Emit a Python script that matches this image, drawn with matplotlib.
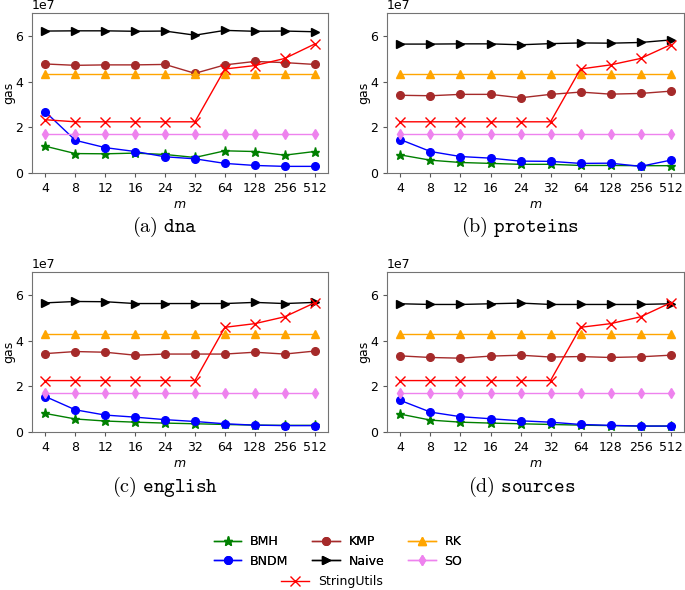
#!/usr/bin/env python3

import matplotlib
matplotlib.use("Agg")
import matplotlib.pyplot as plt
import numpy as np

# pattern length m (categorical x axis)
m_labels = ["4", "8", "12", "16", "24", "32", "64", "128", "256", "512"]

# gas used, in units of 1e7
dna_bmh = [1.17, 0.85, 0.84, 0.87, 0.81, 0.68, 0.97, 0.94, 0.78, 0.94]
dna_bndm = [2.67, 1.43, 1.11, 0.94, 0.71, 0.62, 0.42, 0.33, 0.29, 0.29]
dna_kmp = [4.77, 4.71, 4.73, 4.73, 4.75, 4.36, 4.73, 4.88, 4.83, 4.75]
dna_naive = [6.21, 6.22, 6.22, 6.20, 6.21, 6.03, 6.24, 6.20, 6.21, 6.18]
dna_rk = [4.31] * 10
dna_so = [1.70] * 10
dna_su = [2.33, 2.24, 2.24, 2.24, 2.24, 2.24, 4.55, 4.70, 5.01, 5.64]

prot_bmh = [0.79, 0.56, 0.46, 0.42, 0.38, 0.38, 0.33, 0.33, 0.32, 0.32]
prot_bndm = [1.46, 0.94, 0.72, 0.65, 0.52, 0.51, 0.42, 0.43, 0.29, 0.56]
prot_kmp = [3.40, 3.38, 3.44, 3.44, 3.29, 3.44, 3.54, 3.45, 3.48, 3.58]
prot_naive = [5.64, 5.64, 5.65, 5.65, 5.61, 5.66, 5.69, 5.68, 5.71, 5.82]
prot_rk = [4.31] * 10
prot_so = [1.70] * 10
prot_su = [2.24, 2.24, 2.24, 2.24, 2.24, 2.24, 4.55, 4.73, 5.01, 5.61]

eng_bmh = [0.81, 0.57, 0.48, 0.43, 0.39, 0.36, 0.33, 0.30, 0.29, 0.29]
eng_bndm = [1.55, 0.97, 0.74, 0.65, 0.54, 0.46, 0.36, 0.30, 0.28, 0.28]
eng_kmp = [3.43, 3.52, 3.49, 3.36, 3.41, 3.41, 3.41, 3.49, 3.41, 3.54]
eng_naive = [5.65, 5.71, 5.70, 5.62, 5.62, 5.62, 5.62, 5.67, 5.62, 5.67]
eng_rk = [4.30] * 10
eng_so = [1.72] * 10
eng_su = [2.25, 2.25, 2.25, 2.25, 2.25, 2.25, 4.58, 4.74, 5.04, 5.65]

src_bmh = [0.78, 0.52, 0.43, 0.39, 0.36, 0.33, 0.30, 0.28, 0.26, 0.26]
src_bndm = [1.38, 0.87, 0.67, 0.58, 0.49, 0.43, 0.33, 0.29, 0.26, 0.26]
src_kmp = [3.33, 3.26, 3.23, 3.32, 3.36, 3.28, 3.30, 3.26, 3.29, 3.36]
src_naive = [5.61, 5.58, 5.58, 5.61, 5.64, 5.58, 5.58, 5.58, 5.58, 5.61]
src_rk = [4.30] * 10
src_so = [1.72] * 10
src_su = [2.25, 2.25, 2.25, 2.25, 2.25, 2.25, 4.58, 4.74, 5.04, 5.65]

algorithms = ["BMH", "BNDM", "KMP", "Naive", "RK", "SO", "StringUtils"]
colors = ["green", "blue", "brown", "black", "orange", "violet", "red"]
markers = ["*", "o", "o", ">", "^", "d", "x"]

datasets = [
    ("(a)", "dna", [dna_bmh, dna_bndm, dna_kmp, dna_naive, dna_rk, dna_so, dna_su]),
    ("(b)", "proteins", [prot_bmh, prot_bndm, prot_kmp, prot_naive, prot_rk, prot_so, prot_su]),
    ("(c)", "english", [eng_bmh, eng_bndm, eng_kmp, eng_naive, eng_rk, eng_so, eng_su]),
    ("(d)", "sources", [src_bmh, src_bndm, src_kmp, src_naive, src_rk, src_so, src_su]),
]

W, H = 685, 590
FS = 9
fig = plt.figure(figsize=(W / 100, H / 100), dpi=100)

# axes boxes in pixels: (left, top, right, bottom)
boxes = [(32, 13, 328, 173), (387, 13, 684, 173),
         (32, 272, 328, 432), (387, 272, 684, 432)]
captions_xy = [(165, 227), (520, 227), (165, 487), (522, 487)]

x = np.arange(len(m_labels))
handles = []
for (tag, name, series), (l, t, r, b), (cx, cy) in zip(datasets, boxes, captions_xy):
    ax = fig.add_axes([l / W, (H - b) / H, (r - l) / W, (b - t) / H])
    handles = []
    for vals, lab, c, mk in zip(series, algorithms, colors, markers):
        ms = 6.5 if mk in ("*", "x") else 5.5
        h, = ax.plot(x, np.array(vals) * 1e7, color=c, marker=mk, markersize=ms,
                     linewidth=1.0, label=lab)
        handles.append(h)
    ax.set_xticks(x)
    ax.set_xticklabels(m_labels)
    ax.set_ylim(0, 7e7)
    ax.set_yticks([0, 2e7, 4e7, 6e7])
    ax.tick_params(labelsize=FS, length=3, color="0.35")
    for s in ax.spines.values():
        s.set_color("0.45")
    ax.set_xlabel("$m$", fontsize=FS, labelpad=2)
    ax.set_ylabel("gas", fontsize=FS)
    # label anchor is its right edge (rotated text)
    ax.yaxis.set_label_coords(-17.0 / (r - l), 0.5)
    ax.yaxis.get_offset_text().set_fontsize(FS)
    fig.text(cx / W, (H - cy) / H, r"$\mathrm{" + tag + r"}\ \mathtt{" + name + "}$",
             math_fontfamily="cm", fontsize=14.5, ha="center", va="center")

leg1 = fig.legend(handles[:6], algorithms[:6], ncol=3, loc="center",
                  bbox_to_anchor=(338 / W, (H - 551.5) / H), frameon=False,
                  fontsize=FS, columnspacing=1.9, handlelength=2.2,
                  handletextpad=0.7, labelspacing=0.5)
fig.add_artist(leg1)
fig.legend(handles[6:], algorithms[6:], loc="center",
           bbox_to_anchor=(332 / W, (H - 582) / H), frameon=False,
           fontsize=FS, handlelength=2.2, handletextpad=0.7)

fig.savefig("out.png", dpi=100)
